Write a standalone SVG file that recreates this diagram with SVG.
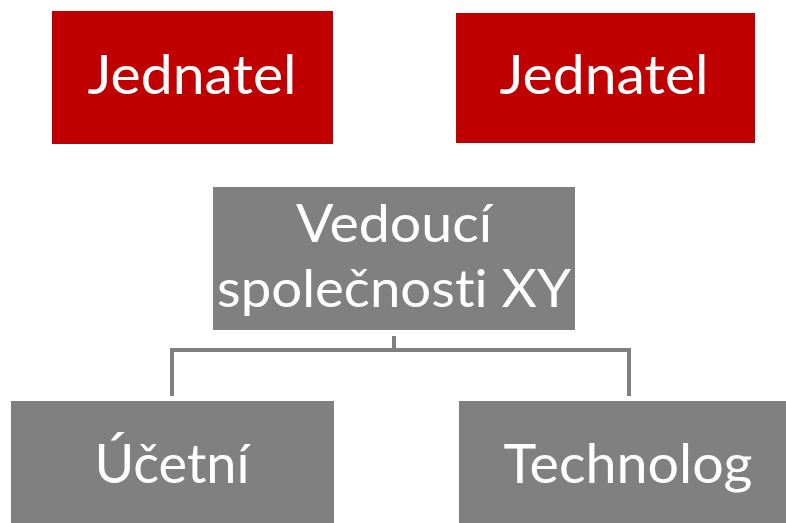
<svg xmlns="http://www.w3.org/2000/svg" width="786" height="523" viewBox="0 0 786 523">
<style>
.red{fill:#c00000}
.gray{fill:#808080}
text{font-family:Lato,"Liberation Sans",sans-serif;fill:#ffffff;text-anchor:middle;font-variant-ligatures:none}
.conn{fill:none;stroke:#808080;stroke-width:4}
</style>
<rect width="786" height="523" fill="#ffffff"/>
<g id="connectors">
<path class="conn" d="M394 336V350M172 350H629M172 348V396M629 348V396"/>
</g>
<g id="jednatel1">
<rect class="red" x="52" y="11" width="281" height="133"/>
<text x="192" y="94" font-size="54" textLength="209" lengthAdjust="spacingAndGlyphs">Jednatel</text>
</g>
<g id="jednatel2">
<rect class="red" x="456" y="13" width="299" height="130"/>
<text x="604" y="94" font-size="54" textLength="209" lengthAdjust="spacingAndGlyphs">Jednatel</text>
</g>
<g id="vedouci">
<rect class="gray" x="213" y="187" width="362" height="143"/>
<text x="394" y="242" font-size="53" textLength="196" lengthAdjust="spacingAndGlyphs">Vedoucí</text>
<text x="394" y="307" font-size="53" textLength="354" lengthAdjust="spacingAndGlyphs">společnosti XY</text>
</g>
<g id="ucetni">
<rect class="gray" x="11" y="401" width="323" height="130"/>
<text x="172" y="483" font-size="54" textLength="155" lengthAdjust="spacingAndGlyphs">Účetní</text>
</g>
<g id="technolog">
<rect class="gray" x="459" y="401" width="330" height="130"/>
<text x="628" y="483" font-size="54" textLength="249" lengthAdjust="spacingAndGlyphs">Technolog</text>
</g>
</svg>
